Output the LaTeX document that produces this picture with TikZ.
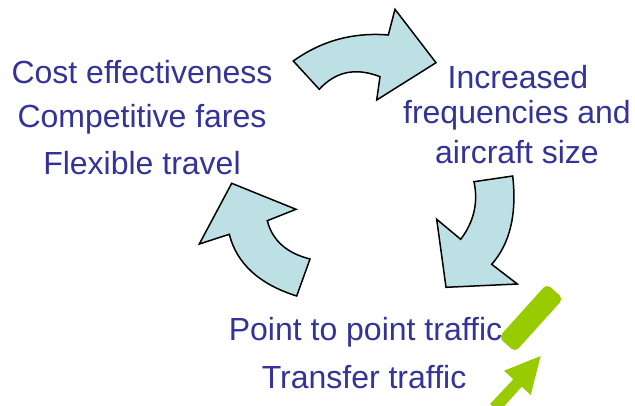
\documentclass[tikz,border=0pt]{standalone}
\usepackage{fontspec}
\setmainfont{Liberation Sans}
\definecolor{cyclefill}{RGB}{189,224,228}
\definecolor{labelblue}{RGB}{51,51,153}
\definecolor{markgreen}{RGB}{153,204,0}
\tikzset{
  cyclearrow/.style={draw=black, fill=cyclefill, line width=1.5pt, line join=miter},
  label/.style={text=labelblue, inner sep=0pt, anchor=base, font=\fontsize{32}{38}\selectfont},
  marker/.style={fill=markgreen, draw=none}
}
\begin{document}
\begin{tikzpicture}[x=1pt, y=-1pt]
  \useasboundingbox (0,0) rectangle (635,405);
  \clip (0,0) rectangle (635,405);

  % curved block arrows of the cycle
  \path[cyclearrow] (293.3,61) .. controls (321.6,40.7) and (353.3,32.1) .. (388.3,35)
    -- (395,9.3) -- (436,62.7) -- (376.7,100) -- (380,76.7)
    .. controls (355.8,67.2) and (335.6,71.4) .. (319.3,89.3) -- cycle;
  \path[cyclearrow] (512.7,176) -- (474,181.7)
    .. controls (478.4,202.5) and (474,221.7) .. (460.7,239.3)
    -- (436.7,219.3) -- (446,287.3) -- (517.3,284) -- (491.7,264.3)
    .. controls (510,243.6) and (517,214.2) .. (512.7,176) -- cycle;
  \path[cyclearrow] (231.7,183.3) -- (296,209.3) -- (267.3,220.7)
    .. controls (272.3,240.3) and (286.5,253.1) .. (310,259) -- (296.7,296)
    .. controls (259.2,284.2) and (236.7,263.6) .. (229.3,234.3) -- (199.3,244) -- cycle;

  % labels
  \node[label] (c1) at (142,83.3) {Cost effectiveness};
  \node[label] (c2) at (142,127.7) {Competitive fares};
  \node[label] (c3) at (142,174) {Flexible travel};
  \node[label] (f1) at (518,88.3) {Increased};
  \node[label] (f2) at (517,123.3) {frequencies and};
  \node[label] (f3) at (517,163.3) {aircraft size};
  \node[label] (t1) at (365.5,340) {Point to point traffic};
  \node[label] (t2) at (364,388) {Transfer traffic};

  % green highlighter marks
  \path[marker, rounded corners=5pt] (563.3,298.7) -- (546.9,283.9)
    -- (498.7,337.3) -- (515.1,352.1) -- cycle;
  \path[marker] (540.7,356) -- (504,370.7) -- (513.3,379.3) -- (490,404)
    -- (499,412) -- (521.7,386.7) -- (530.7,395) -- cycle;
\end{tikzpicture}
\end{document}
